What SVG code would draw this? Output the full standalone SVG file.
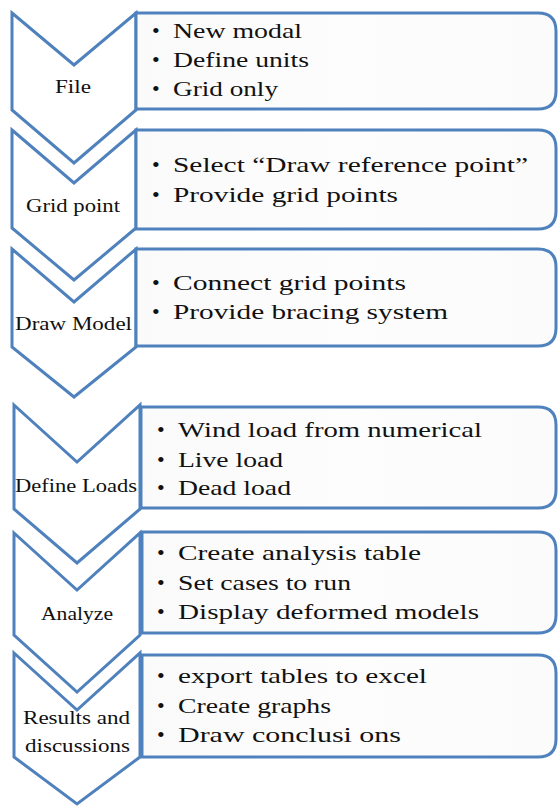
<svg xmlns="http://www.w3.org/2000/svg" width="559" height="807" viewBox="0 0 559 807" font-family="Liberation Serif">
<defs>
<linearGradient id="bg" x1="0" y1="0" x2="1" y2="0">
<stop offset="0" stop-color="#fafafa"/>
<stop offset="0.5" stop-color="#fdfdfd"/>
<stop offset="1" stop-color="#fbfbfb"/>
</linearGradient>
<style>
.chev{fill:#ffffff;stroke:#4f81bd;stroke-width:3;stroke-linejoin:miter}
.box{fill:url(#bg);stroke:#4f81bd;stroke-width:3}
.lbl{font-size:19px;fill:#111}
.bt{font-size:22px;fill:#111}
</style>
</defs>
<rect width="559" height="807" fill="#ffffff"/>
<g id="connectors"></g>

<g id="step-file">
<path class="chev" d="M12,13 L74,65 L136,13 L136,110 L74,163 L12,110 Z"/>
<path class="box" d="M136,13 H538 Q556,13 556,31 V91 Q556,109 538,109 H136 Z"/>
<text class="lbl" font-family="Liberation Serif" x="55" y="93" textLength="36" lengthAdjust="spacingAndGlyphs">File</text>
<text class="bt" font-family="Liberation Serif" x="152" y="38">•</text><text class="bt" font-family="Liberation Serif" x="173" y="38" textLength="129" lengthAdjust="spacingAndGlyphs">New modal</text>
<text class="bt" font-family="Liberation Serif" x="152" y="67">•</text><text class="bt" font-family="Liberation Serif" x="173" y="67" textLength="136" lengthAdjust="spacingAndGlyphs">Define units</text>
<text class="bt" font-family="Liberation Serif" x="152" y="96">•</text><text class="bt" font-family="Liberation Serif" x="173" y="96" textLength="105" lengthAdjust="spacingAndGlyphs">Grid only</text>
</g>

<g id="step-grid">
<path class="chev" d="M12,130 L74,183 L136,130 L136,228 L74,280 L12,228 Z"/>
<path class="box" d="M136,130 H538 Q556,130 556,148 V211 Q556,229 538,229 H136 Z"/>
<text class="lbl" font-family="Liberation Serif" x="26" y="212" textLength="94" lengthAdjust="spacingAndGlyphs">Grid point</text>
<text class="bt" font-family="Liberation Serif" x="152" y="172">•</text><text class="bt" font-family="Liberation Serif" x="173" y="172" textLength="355" lengthAdjust="spacingAndGlyphs">Select  “Draw  reference  point”</text>
<text class="bt" font-family="Liberation Serif" x="152" y="202">•</text><text class="bt" font-family="Liberation Serif" x="173" y="202" textLength="225" lengthAdjust="spacingAndGlyphs">Provide  grid  points</text>
</g>

<g id="step-draw">
<path class="chev" d="M12,249 L74,302 L136,249 L136,347 L74,397 L12,347 Z"/>
<path class="box" d="M136,249 H538 Q556,249 556,267 V328 Q556,346 538,346 H136 Z"/>
<text class="lbl" font-family="Liberation Serif" x="15" y="330" textLength="117" lengthAdjust="spacingAndGlyphs">Draw Model</text>
<text class="bt" font-family="Liberation Serif" x="152" y="290">•</text><text class="bt" font-family="Liberation Serif" x="173" y="290" textLength="233" lengthAdjust="spacingAndGlyphs">Connect  grid  points</text>
<text class="bt" font-family="Liberation Serif" x="152" y="319">•</text><text class="bt" font-family="Liberation Serif" x="173" y="319" textLength="275" lengthAdjust="spacingAndGlyphs">Provide  bracing  system</text>
</g>

<g id="step-loads">
<path class="chev" d="M14,405 L77,462 L140,405 L140,509 L77,563 L14,509 Z"/>
<path class="box" d="M141,407 H538 Q556,407 556,425 V490 Q556,508 538,508 H141 Z"/>
<text class="lbl" font-family="Liberation Serif" x="15" y="492" textLength="122" lengthAdjust="spacingAndGlyphs">Define Loads</text>
<text class="bt" font-family="Liberation Serif" x="157" y="437">•</text><text class="bt" font-family="Liberation Serif" x="178" y="437" textLength="304" lengthAdjust="spacingAndGlyphs">Wind  load  from  numerical</text>
<text class="bt" font-family="Liberation Serif" x="157" y="467">•</text><text class="bt" font-family="Liberation Serif" x="178" y="467" textLength="105" lengthAdjust="spacingAndGlyphs">Live load</text>
<text class="bt" font-family="Liberation Serif" x="157" y="495">•</text><text class="bt" font-family="Liberation Serif" x="178" y="495" textLength="113" lengthAdjust="spacingAndGlyphs">Dead load</text>
</g>

<g id="step-analyze">
<path class="chev" d="M14,533 L77,590 L140,533 L140,635 L77,692 L14,635 Z"/>
<path class="box" d="M142,532 H538 Q556,532 556,550 V615 Q556,633 538,633 H142 Z"/>
<text class="lbl" font-family="Liberation Serif" x="41" y="620" textLength="72" lengthAdjust="spacingAndGlyphs">Analyze</text>
<text class="bt" font-family="Liberation Serif" x="157" y="560">•</text><text class="bt" font-family="Liberation Serif" x="178" y="560" textLength="243" lengthAdjust="spacingAndGlyphs">Create  analysis  table</text>
<text class="bt" font-family="Liberation Serif" x="157" y="590">•</text><text class="bt" font-family="Liberation Serif" x="178" y="590" textLength="173" lengthAdjust="spacingAndGlyphs">Set cases to run</text>
<text class="bt" font-family="Liberation Serif" x="157" y="619">•</text><text class="bt" font-family="Liberation Serif" x="178" y="619" textLength="301" lengthAdjust="spacingAndGlyphs">Display  deformed  models</text>
</g>

<g id="step-results">
<path class="chev" d="M14,653 L77,710 L140,653 L140,757 L77,804 L14,757 Z"/>
<path class="box" d="M142,655 H538 Q556,655 556,673 V739 Q556,757 538,757 H142 Z"/>
<text class="lbl" font-family="Liberation Serif" x="23" y="724" textLength="107" lengthAdjust="spacingAndGlyphs">Results and</text>
<text class="lbl" font-family="Liberation Serif" x="25" y="752" textLength="105" lengthAdjust="spacingAndGlyphs">discussions</text>
<text class="bt" font-family="Liberation Serif" x="157" y="683">•</text><text class="bt" font-family="Liberation Serif" x="178" y="683" textLength="249" lengthAdjust="spacingAndGlyphs">export  tables to  excel</text>
<text class="bt" font-family="Liberation Serif" x="157" y="713">•</text><text class="bt" font-family="Liberation Serif" x="178" y="713" textLength="153" lengthAdjust="spacingAndGlyphs">Create graphs</text>
<text class="bt" font-family="Liberation Serif" x="157" y="742">•</text><text class="bt" font-family="Liberation Serif" x="178" y="742" textLength="223" lengthAdjust="spacingAndGlyphs">Draw  conclusi  ons</text>
</g>
</svg>
